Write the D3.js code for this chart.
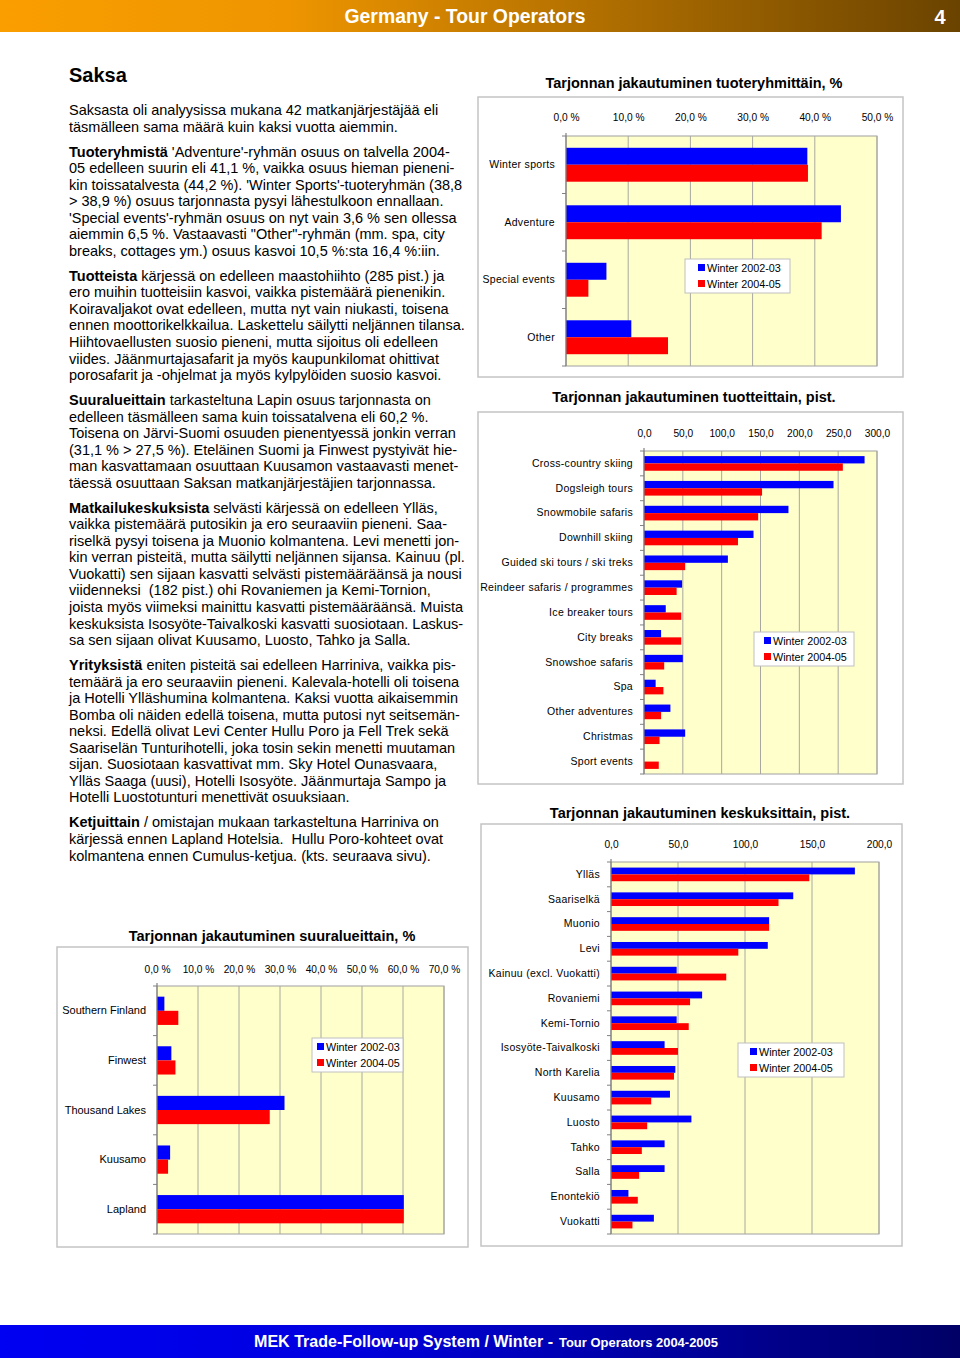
<!DOCTYPE html>
<html>
<head>
<meta charset="utf-8">
<script src="https://cdn.jsdelivr.net/npm/d3@7"></script>
<style>
  html, body { margin: 0; padding: 0; background: #fff; }
  svg { display: block; }
  text { font-family: "Liberation Sans", Arial, sans-serif; }
</style>
</head>
<body>
<svg id="page" width="960" height="1358"></svg>
<script>
// ---------------- DATA ----------------
const seriesNames = ["Winter 2002-03", "Winter 2004-05"];

const groupCats = ["Winter sports", "Adventure", "Special events", "Other"];
const group0203 = [38.8, 44.2, 6.5, 10.5];
const group0405 = [38.9, 41.1, 3.6, 16.4];
const groupTicks = [0, 10, 20, 30, 40, 50];

const productCats = ["Cross-country skiing", "Dogsleigh tours", "Snowmobile safaris", "Downhill skiing",
  "Guided ski tours / ski treks", "Reindeer safaris / programmes", "Ice breaker tours", "City breaks",
  "Snowshoe safaris", "Spa", "Other adventures", "Christmas", "Sport events"];
const product0203 = [284, 244, 186, 141, 108, 49, 28, 22, 50, 15, 34, 53, 0];
const product0405 = [256, 152, 147, 121, 53, 42, 48, 48, 26, 25, 22, 20, 19];
const productTicks = [0, 50, 100, 150, 200, 250, 300];

const centreCats = ["Ylläs", "Saariselkä", "Muonio", "Levi", "Kainuu (excl. Vuokatti)", "Rovaniemi",
  "Kemi-Tornio", "Isosyöte-Taivalkoski", "North Karelia", "Kuusamo", "Luosto", "Tahko", "Salla",
  "Enontekiö", "Vuokatti"];
const centre0203 = [182, 136, 118, 117, 49, 68, 49, 40, 48, 44, 60, 40, 40, 13, 32];
const centre0405 = [148, 125, 118, 95, 86, 59, 58, 50, 47, 30, 27, 23, 21, 20, 16];
const centreTicks = [0, 50, 100, 150, 200];

const regionCats = ["Southern Finland", "Finwest", "Thousand Lakes", "Kuusamo", "Lapland"];
const region0203 = [1.8, 3.5, 31.1, 3.2, 60.2];
const region0405 = [5.2, 4.5, 27.5, 2.7, 60.2];
const regionTicks = [0, 10, 20, 30, 40, 50, 60, 70];

const headerTitle = "Germany - Tour Operators";
const pageNumber = "4";
const footerMain = "MEK Trade-Follow-up System / Winter -";
const footerSmall = "Tour Operators 2004-2005";

const heading = "Saksa";
const paragraphs = [
  [["", "Saksasta oli analyysissa mukana 42 matkanjärjestäjää eli"],
   "täsmälleen sama määrä kuin kaksi vuotta aiemmin."],
  [["Tuoteryhmistä", " 'Adventure'-ryhmän osuus on talvella 2004-"],
   "05 edelleen suurin eli 41,1 %, vaikka osuus hieman pieneni-",
   "kin toissatalvesta (44,2 %). 'Winter Sports'-tuoteryhmän (38,8",
   "> 38,9 %) osuus tarjonnasta pysyi lähestulkoon ennallaan.",
   "'Special events'-ryhmän osuus on nyt vain 3,6 % sen ollessa",
   "aiemmin 6,5 %. Vastaavasti \"Other\"-ryhmän (mm. spa, city",
   "breaks, cottages ym.) osuus kasvoi 10,5 %:sta 16,4 %:iin."],
  [["Tuotteista", " kärjessä on edelleen maastohiihto (285 pist.) ja"],
   "ero muihin tuotteisiin kasvoi, vaikka pistemäärä pienenikin.",
   "Koiravaljakot ovat edelleen, mutta nyt vain niukasti, toisena",
   "ennen moottorikelkkailua. Laskettelu säilytti neljännen tilansa.",
   "Hiihtovaellusten suosio pieneni, mutta sijoitus oli edelleen",
   "viides. Jäänmurtajasafarit ja myös kaupunkilomat ohittivat",
   "porosafarit ja -ohjelmat ja myös kylpylöiden suosio kasvoi."],
  [["Suuralueittain", " tarkasteltuna Lapin osuus tarjonnasta on"],
   "edelleen täsmälleen sama kuin toissatalvena eli 60,2 %.",
   "Toisena on Järvi-Suomi osuuden pienentyessä jonkin verran",
   "(31,1 % > 27,5 %). Eteläinen Suomi ja Finwest pystyivät hie-",
   "man kasvattamaan osuuttaan Kuusamon vastaavasti menet-",
   "täessä osuuttaan Saksan matkanjärjestäjien tarjonnassa."],
  [["Matkailukeskuksista", " selvästi kärjessä on edelleen Ylläs,"],
   "vaikka pistemäärä putosikin ja ero seuraaviin pieneni. Saa-",
   "riselkä pysyi toisena ja Muonio kolmantena. Levi menetti jon-",
   "kin verran pisteitä, mutta säilytti neljännen sijansa. Kainuu (pl.",
   "Vuokatti) sen sijaan kasvatti selvästi pistemääräänsä ja nousi",
   "viidenneksi  (182 pist.) ohi Rovaniemen ja Kemi-Tornion,",
   "joista myös viimeksi mainittu kasvatti pistemääräänsä. Muista",
   "keskuksista Isosyöte-Taivalkoski kasvatti suosiotaan. Laskus-",
   "sa sen sijaan olivat Kuusamo, Luosto, Tahko ja Salla."],
  [["Yrityksistä", " eniten pisteitä sai edelleen Harriniva, vaikka pis-"],
   "temäärä ja ero seuraaviin pieneni. Kalevala-hotelli oli toisena",
   "ja Hotelli Ylläshumina kolmantena. Kaksi vuotta aikaisemmin",
   "Bomba oli näiden edellä toisena, mutta putosi nyt seitsemän-",
   "neksi. Edellä olivat Levi Center Hullu Poro ja Fell Trek sekä",
   "Saariselän Tunturihotelli, joka tosin sekin menetti muutaman",
   "sijan. Suosiotaan kasvattivat mm. Sky Hotel Ounasvaara,",
   "Ylläs Saaga (uusi), Hotelli Isosyöte. Jäänmurtaja Sampo ja",
   "Hotelli Luostotunturi menettivät osuuksiaan."],
  [["Ketjuittain", " / omistajan mukaan tarkasteltuna Harriniva on"],
   "kärjessä ennen Lapland Hotelsia.  Hullu Poro-kohteet ovat",
   "kolmantena ennen Cumulus-ketjua. (kts. seuraava sivu)."]
];

// ---------------- DRAW ----------------
const svg = d3.select("#page");
const defs = svg.append("defs");

const hg = defs.append("linearGradient").attr("id", "hdr").attr("x1", "0").attr("x2", "1");
hg.append("stop").attr("offset", "0").attr("stop-color", "#FA9E00");
hg.append("stop").attr("offset", "0.3").attr("stop-color", "#EE9500");
hg.append("stop").attr("offset", "1").attr("stop-color", "#6A4300");
const fg = defs.append("linearGradient").attr("id", "ftr").attr("x1", "0").attr("x2", "1");
fg.append("stop").attr("offset", "0").attr("stop-color", "#0000F2");
fg.append("stop").attr("offset", "0.35").attr("stop-color", "#0000E0");
fg.append("stop").attr("offset", "1").attr("stop-color", "#000066");

const narrow = "'Liberation Sans Narrow','Arial Narrow','Liberation Sans',sans-serif";

// header
svg.append("rect").attr("x", 0).attr("y", 0).attr("width", 960).attr("height", 32).attr("fill", "url(#hdr)");
svg.append("text").attr("x", 465).attr("y", 23).attr("text-anchor", "middle")
  .attr("fill", "#fff").attr("font-weight", "bold").attr("font-size", 20)
  .style("font-family", narrow)
  .attr("textLength", 241).attr("lengthAdjust", "spacingAndGlyphs")
  .text(headerTitle);
svg.append("text").attr("x", 940).attr("y", 24).attr("text-anchor", "middle")
  .attr("fill", "#fff").attr("font-weight", "bold").attr("font-size", 20)
  .style("font-family", narrow)
  .text(pageNumber);

// footer
svg.append("rect").attr("x", 0).attr("y", 1325).attr("width", 960).attr("height", 33).attr("fill", "url(#ftr)");
svg.append("text").attr("x", 254).attr("y", 1347).attr("fill", "#fff").attr("font-weight", "bold")
  .style("font-family", narrow).attr("font-size", 17)
  .attr("textLength", 299).attr("lengthAdjust", "spacingAndGlyphs").text(footerMain);
svg.append("text").attr("x", 559).attr("y", 1347).attr("fill", "#fff").attr("font-weight", "bold")
  .style("font-family", narrow).attr("font-size", 13)
  .attr("textLength", 159).attr("lengthAdjust", "spacingAndGlyphs").text(footerSmall);

// body text
svg.append("text").attr("x", 69).attr("y", 82).attr("font-size", 20).attr("font-weight", "bold").text(heading);
let yy = 115;
const lh = 16.55, pgap = 8.4;
paragraphs.forEach((p) => {
  p.forEach((line) => {
    const t = svg.append("text").attr("x", 69).attr("y", yy).attr("font-size", 14.5)
      .attr("fill", "#000").style("white-space", "pre");
    if (Array.isArray(line)) {
      if (line[0]) t.append("tspan").attr("font-weight", "bold").text(line[0]);
      t.append("tspan").text(line[1]);
    } else {
      t.text(line);
    }
    yy += lh;
  });
  yy += pgap;
});

// chart helper
const fmtPct = d => d3.format(".1f")(d).replace(".", ",") + " %";
const fmtNum = d => d3.format(".1f")(d).replace(".", ",");

function barChart(o) {
  const g = svg.append("g");
  g.append("rect").attr("x", o.box[0]).attr("y", o.box[1])
    .attr("width", o.box[2] - o.box[0]).attr("height", o.box[3] - o.box[1])
    .attr("fill", "#fff").attr("stroke", "#c4c4c4").attr("stroke-width", 1.5);
  g.append("text").attr("x", o.titleX).attr("y", o.titleY).attr("text-anchor", "middle")
    .attr("font-size", 14.5).attr("font-weight", "bold").text(o.title);

  const [x0, y0, x1, y1] = o.plot;
  const x = d3.scaleLinear().domain([0, d3.max(o.ticks)]).range([x0, x1]);
  const y = d3.scaleBand().domain(o.cats).range([y0, y1]).padding(0);
  const pOuter = (2 / o.frac - 2) / 2;
  const ys = d3.scaleBand().domain([0, 1]).range([0, y.bandwidth()]).paddingInner(0).paddingOuter(pOuter);

  g.append("rect").attr("x", x0).attr("y", y0).attr("width", x1 - x0).attr("height", y1 - y0)
    .attr("fill", "#FFFFCC").attr("stroke", "#a0a0a0").attr("stroke-width", 1);
  g.append("g").selectAll("line").data(o.ticks.slice(1)).join("line")
    .attr("x1", d => x(d)).attr("x2", d => x(d)).attr("y1", y0).attr("y2", y1)
    .attr("stroke", "#a8a8a0").attr("stroke-width", 1);

  const series = [o.s1, o.s2];
  const colors = ["#0000FF", "#FF0000"];
  series.forEach((vals, si) => {
    g.append("g").selectAll("rect").data(o.cats).join("rect")
      .attr("x", x0)
      .attr("y", (c) => y(c) + ys(si))
      .attr("width", (c, i) => x(vals[i]) - x0)
      .attr("height", ys.bandwidth())
      .attr("fill", colors[si]);
  });

  const ax = g.append("g").attr("transform", `translate(0,${o.tickY})`)
    .call(d3.axisTop(x).tickValues(o.ticks).tickSize(0).tickPadding(0).tickFormat(o.fmt));
  ax.select(".domain").remove();
  ax.selectAll("text").attr("font-size", 10.2).attr("fill", "#000")
    .style("font-family", "'Liberation Sans',Arial,sans-serif").attr("dy", "0");

  g.append("line").attr("x1", x0).attr("x2", x0).attr("y1", y0 - 3).attr("y2", y1)
    .attr("stroke", "#808080").attr("stroke-width", 1.2);
  g.append("g").selectAll("line").data(d3.range(o.cats.length + 1)).join("line")
    .attr("x1", x0 - 4).attr("x2", x0)
    .attr("y1", i => y0 + i * y.step()).attr("y2", i => y0 + i * y.step())
    .attr("stroke", "#808080");
  const ay = g.append("g").attr("transform", `translate(${x0},0)`)
    .call(d3.axisLeft(y).tickSize(0).tickPadding(11));
  ay.select(".domain").remove();
  ay.selectAll("text").attr("font-size", o.catSize || 10.5).attr("fill", "#000")
    .attr("letter-spacing", o.catSpacing || 0)
    .style("font-family", "'Liberation Sans',Arial,sans-serif");

  const [lx, ly, lw, lhh] = o.legend;
  const lg = g.append("g").attr("transform", `translate(${lx},${ly})`);
  lg.append("rect").attr("width", lw).attr("height", lhh).attr("fill", "#fff")
    .attr("stroke", "#c0c0c0").attr("stroke-width", 1);
  seriesNames.forEach((nm, i) => {
    const cy = 8.5 + i * 16;
    lg.append("rect").attr("x", o.legPad).attr("y", cy - 3.5).attr("width", 7).attr("height", 7).attr("fill", colors[i]);
    lg.append("text").attr("x", o.legPad + 9).attr("y", cy + 4).attr("font-size", 10.8).text(nm);
  });
}

barChart({
  cats: groupCats, s1: group0203, s2: group0405, ticks: groupTicks, fmt: fmtPct,
  box: [478, 97, 903, 377], plot: [566, 136, 877, 366], frac: 0.59,
  title: "Tarjonnan jakautuminen tuoteryhmittäin, %", titleX: 694, titleY: 88, tickY: 121,
  legend: [685, 259, 105, 34], legPad: 13, catSize: 10.5, catSpacing: 0.3
});

barChart({
  cats: productCats, s1: product0203, s2: product0405, ticks: productTicks, fmt: fmtNum,
  box: [478, 412, 903, 784], plot: [644, 451, 877, 774], frac: 0.59,
  title: "Tarjonnan jakautuminen tuotteittain, pist.", titleX: 694, titleY: 402, tickY: 437,
  legend: [754, 632, 100, 34], legPad: 10, catSize: 10.5, catSpacing: 0.3
});

barChart({
  cats: centreCats, s1: centre0203, s2: centre0405, ticks: centreTicks, fmt: fmtNum,
  box: [481, 824, 902, 1246], plot: [611, 862, 879, 1234], frac: 0.55,
  title: "Tarjonnan jakautuminen keskuksittain, pist.", titleX: 700, titleY: 818, tickY: 848,
  legend: [738, 1043, 106, 34], legPad: 12, catSize: 10.5, catSpacing: 0.3
});

barChart({
  cats: regionCats, s1: region0203, s2: region0405, ticks: regionTicks, fmt: fmtPct,
  box: [57, 947, 468, 1247], plot: [157, 986, 444, 1234], frac: 0.57,
  title: "Tarjonnan jakautuminen suuralueittain, %", titleX: 272, titleY: 941, tickY: 973,
  legend: [312, 1038, 91, 34], legPad: 5, catSize: 11, catSpacing: 0
});
</script>
</body>
</html>
